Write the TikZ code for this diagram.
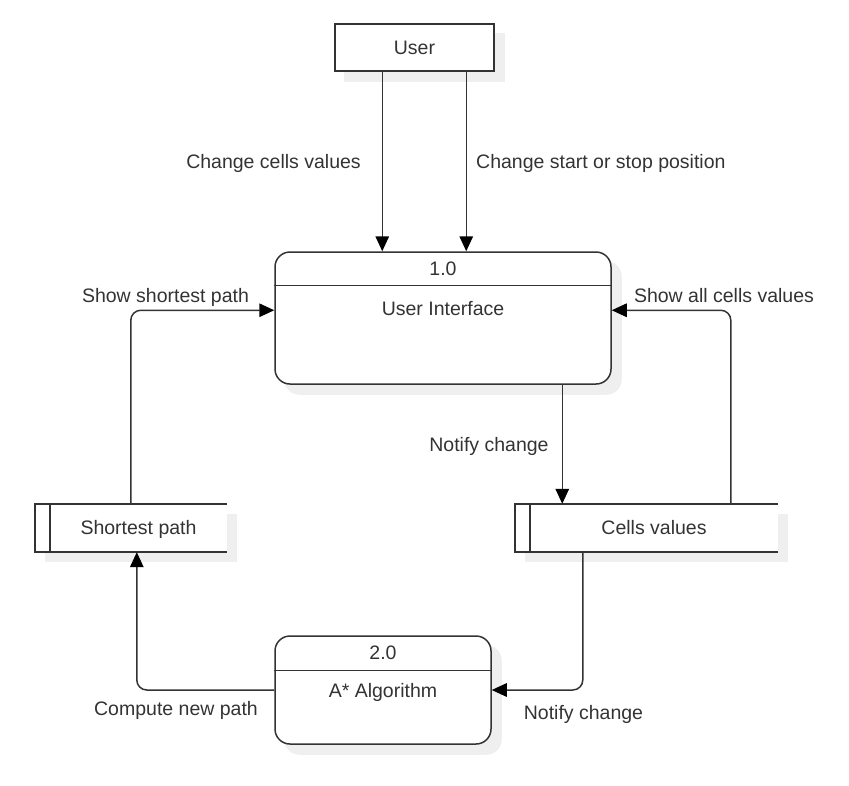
\documentclass[tikz,border=0pt]{standalone}
\usepackage{fontspec}
\setmainfont{Liberation Sans}
\usetikzlibrary{arrows.meta,calc,backgrounds}
\definecolor{ln}{HTML}{333333}
\definecolor{shd}{HTML}{EFEFEF}
\begin{document}
\begin{tikzpicture}[x=1pt,y=-1pt,
  font=\fontsize{19.5}{23}\selectfont, text=ln,
  box/.style={draw=ln,line width=1.5pt,fill=white,inner sep=0pt},
  proc/.style={box,rounded corners=15pt},
  store/.style={inner sep=0pt},
  edge/.style={draw=ln,line width=1.5pt},
  conn/.style={edge,rounded corners=10pt,-{Triangle[length=15pt,width=13.5pt,color=black]}},
  lbl/.style={inner sep=0pt,text height=13.8pt,text depth=0pt}]
\useasboundingbox (0,0) rectangle (849,785);

% shapes
\node[box,minimum width=159pt,minimum height=47pt] (user) at (414.5,47.5) {};
\node[lbl] (usert) at (414.5,48) {User};

\node[proc,minimum width=336pt,minimum height=132pt] (p1) at (443,318) {};
\draw[edge] ($(p1.north west)+(0,34)$) -- ($(p1.north east)+(0,34)$);
\node[lbl] (p1n) at (443,269) {1.0};
\node[lbl] (p1t) at (443,309) {User Interface};

\node[proc,minimum width=216pt,minimum height=108pt] (p2) at (383,690) {};
\draw[edge] ($(p2.north west)+(0,35)$) -- ($(p2.north east)+(0,35)$);
\node[lbl] (p2n) at (383,653) {2.0};
\node[lbl] (p2t) at (383,691) {A* Algorithm};

\node[store,minimum width=192pt,minimum height=48pt] (sp) at (131,528) {};
\fill[white] (sp.north west) rectangle (sp.south east);
\draw[edge] (sp.north east) -- (sp.north west) -- (sp.south west) -- (sp.south east);
\draw[edge] ($(sp.north west)+(15,0)$) -- ($(sp.south west)+(15,0)$);
\node[lbl] (spt) at (138.5,528) {Shortest path};

\node[store,minimum width=263pt,minimum height=48pt] (cv) at (646.5,528) {};
\fill[white] (cv.north west) rectangle (cv.south east);
\draw[edge] (cv.north east) -- (cv.north west) -- (cv.south west) -- (cv.south east);
\draw[edge] ($(cv.north west)+(15,0)$) -- ($(cv.south west)+(15,0)$);
\node[lbl] (cvt) at (654,528) {Cells values};

% shadows
\begin{scope}[on background layer]
\fill[shd] ($(user.north west)+(10,10)$) rectangle ($(user.south east)+(10,10)$);
\fill[shd,rounded corners=15pt] ($(p1.north west)+(10,10)$) rectangle ($(p1.south east)+(10,10)$);
\fill[shd,rounded corners=15pt] ($(p2.north west)+(10,10)$) rectangle ($(p2.south east)+(10,10)$);
\fill[shd] ($(sp.north west)+(10,10)$) rectangle ($(sp.south east)+(10,10)$);
\fill[shd] ($(cv.north west)+(10,10)$) rectangle ($(cv.south east)+(10,10)$);
\end{scope}

% connector points
\coordinate (u1) at ($(user.south west)+(48,0)$);
\coordinate (u2) at ($(user.south west)+(132,0)$);
\coordinate (s1) at ($(sp.north west)+(96,0)$);
\coordinate (s2) at ($(sp.south west)+(102,0)$);
\coordinate (c1) at ($(cv.north west)+(216,0)$);
\coordinate (c2) at ($(cv.south west)+(68,0)$);
\coordinate (p1l) at ($(p1.north west)+(0,59)$);
\coordinate (p1r) at ($(p1.north east)+(0,59)$);
\coordinate (p1b) at ($(p1.south west)+(288,0)$);

% connectors
\draw[conn] (u1) -- (u1 |- p1.north);
\draw[conn] (u2) -- (u2 |- p1.north);
\draw[conn] (s1) |- (p1l);
\draw[conn] (c1) |- (p1r);
\draw[conn] (p1b) -- (p1b |- cv.north);
\draw[conn] (c2) |- (p2.east);
\draw[conn] (p2.west) -| (s2);

% labels
\node[lbl,anchor=east] (l1) at (361,162) {Change cells values};
\node[lbl,anchor=west] (l2) at (476,162) {Change start or stop position};
\node[lbl] (l3) at (165.5,296) {Show shortest path};
\node[lbl] (l4) at (724,296) {Show all cells values};
\node[lbl] (l5) at (489,445) {Notify change};
\node[lbl] (l6) at (583.5,713) {Notify change};
\node[lbl] (l7) at (176,709) {Compute new path};
\end{tikzpicture}
\end{document}
